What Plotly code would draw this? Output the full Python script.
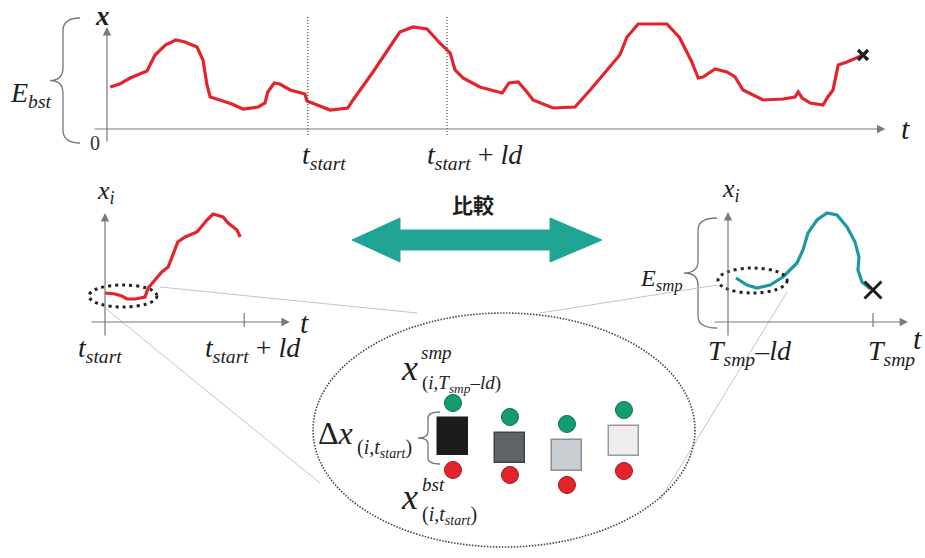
import plotly.graph_objects as go

W, H = 925, 558

# ---------------- data ----------------
# Long best-match series x(t) (top panel)
bst_t = [0.4, 1.6, 2.9, 5.0, 6.0, 7.3, 8.6, 9.75, 11.25, 12.0, 12.5, 12.9, 14.1, 15.6, 17.0, 18.9,
         19.75, 20.1, 20.9, 21.6, 22.9, 24.75, 25.0, 26.0, 27.9, 30.1, 30.75, 33.25, 34.1, 36.6,
         38.25, 40.0, 41.6, 42.9, 43.5, 44.5, 46.6, 49.4, 50.25, 51.4, 52.5, 53.25, 55.75, 58.5,
         60.4, 62.5, 64.1, 65.0, 66.4, 70.0, 71.6, 73.1, 73.9, 74.5, 76.0, 77.5, 78.5, 79.5, 82.0,
         84.5, 86.0, 86.4, 86.9, 87.9, 89.5, 90.1, 90.75, 91.4, 92.5, 94.5]
bst_x = [4.2, 4.5, 5.1, 5.8, 7.4, 8.4, 8.9, 8.7, 8.2, 6.9, 4.4, 3.2, 2.9, 2.5, 2.0, 2.2,
         2.6, 3.7, 4.6, 4.5, 3.9, 3.5, 2.8, 2.5, 1.9, 2.1, 2.9, 5.7, 6.7, 9.7,
         10.2, 10.0, 8.6, 7.6, 5.9, 5.1, 4.2, 3.6, 4.6, 4.7, 3.7, 2.9, 2.1, 2.2,
         3.9, 5.9, 7.4, 9.2, 10.5, 10.5, 9.1, 6.7, 5.1, 5.2, 6.0, 5.7, 5.2, 3.9, 2.9,
         3.0, 3.2, 3.7, 3.1, 2.6, 2.4, 3.2, 3.9, 6.4, 6.7, 7.4]
t_start = 25.1
ld = 17.4

# Window of the best-match series, t measured from t_start (bottom-left panel)
win_t = [0.0, 1.25, 2.1, 2.75, 3.75, 5.0, 5.4, 6.25, 7.1, 7.9, 9.1, 10.0, 11.5, 12.75, 13.5,
         14.75, 15.4, 16.5, 16.9]
win_x = [2.9, 2.8, 2.6, 2.3, 2.3, 2.5, 3.4, 4.2, 5.0, 5.5, 8.0, 8.5, 9.0, 10.2, 10.8,
         10.5, 9.9, 9.2, 8.5]

# Sample series, t measured from T_smp - ld (bottom-right panel)
smp_t = [0.96, 2.28, 3.48, 5.04, 6.6, 8.28, 9.0, 9.6, 10.68, 11.88, 13.08, 14.28, 15.24,
         15.72, 15.6, 16.08, 17.1]
smp_x = [4.4, 3.7, 3.4, 3.7, 4.5, 5.9, 7.2, 8.9, 10.2, 10.9, 10.7, 9.5, 8.0,
         6.5, 5.2, 4.0, 3.3]
smp_end_x = 3.2

# Element-wise comparison at t_start (inside the magnified view)
elem = [0, 1, 2, 3]
x_smp_vals = [7.7, 6.3, 5.6, 7.0]
x_bst_vals = [1.0, 0.5, -0.5, 0.9]
diff_low = [2.5, 1.7, 0.9, 2.4]
diff_high = [6.2, 4.7, 4.0, 5.4]
diff_fill = ["#1c1c1c", "#5f6366", "#c9ced3", "#eeeeee"]
diff_edge = ["#1c1c1c", "#3f4346", "#8a8e92", "#9a9a9a"]

RED = "#E3242B"
TEAL_LINE = "#1B98A3"
TEAL_ARROW = "#20A595"
GREEN = "#139B72"
AXIS = "#7a7a7a"
INK = "#1e1e1e"
SERIF = "Liberation Serif"


def dom_x(p0, p1):
    return [p0 / W, p1 / W]


def dom_y(p0, p1):
    return [1 - p1 / H, 1 - p0 / H]


fig = go.Figure()

# top panel: long series
fig.add_trace(go.Scatter(x=bst_t, y=bst_x, mode="lines", line=dict(color=RED, width=3.2),
                         xaxis="x", yaxis="y", hoverinfo="skip"))
fig.add_trace(go.Scatter(x=[bst_t[-1]], y=[bst_x[-1]], mode="markers",
                         marker=dict(symbol="x-thin", size=10, line=dict(color=INK, width=3.2)),
                         xaxis="x", yaxis="y", hoverinfo="skip"))
for tv in [t_start, t_start + ld]:
    fig.add_trace(go.Scatter(x=[tv, tv], y=[11.2, -0.7], mode="lines",
                             line=dict(color="#555", width=1.3, dash="1px,2px"),
                             xaxis="x", yaxis="y", hoverinfo="skip"))

# bottom-left panel: window of best-match series
fig.add_trace(go.Scatter(x=win_t, y=win_x, mode="lines", line=dict(color=RED, width=3.2),
                         xaxis="x2", yaxis="y2", hoverinfo="skip"))
fig.add_trace(go.Scatter(x=[ld, ld], y=[0.9, -0.5], mode="lines",
                         line=dict(color=AXIS, width=1.2), xaxis="x2", yaxis="y2", hoverinfo="skip"))

# bottom-right panel: sample series
fig.add_trace(go.Scatter(x=smp_t, y=smp_x, mode="lines", line=dict(color=TEAL_LINE, width=3.2),
                         xaxis="x3", yaxis="y3", hoverinfo="skip"))
fig.add_trace(go.Scatter(x=[ld], y=[smp_end_x], mode="markers",
                         marker=dict(symbol="x-thin", size=17, line=dict(color=INK, width=3)),
                         xaxis="x3", yaxis="y3", hoverinfo="skip"))
fig.add_trace(go.Scatter(x=[ld, ld], y=[0.9, -0.5], mode="lines",
                         line=dict(color=AXIS, width=1.2), xaxis="x3", yaxis="y3", hoverinfo="skip"))

# magnified view: difference squares plus the two element values
fig.add_trace(go.Bar(x=elem, y=[h - l for h, l in zip(diff_high, diff_low)], base=diff_low,
                     width=0.53,
                     marker=dict(color=diff_fill, line=dict(color=diff_edge, width=1.5)),
                     xaxis="x4", yaxis="y4", hoverinfo="skip"))
fig.add_trace(go.Scatter(x=elem, y=x_smp_vals, mode="markers",
                         marker=dict(size=17, color=GREEN, line=dict(color="#0b6e50", width=1)),
                         xaxis="x4", yaxis="y4", hoverinfo="skip"))
fig.add_trace(go.Scatter(x=elem, y=x_bst_vals, mode="markers",
                         marker=dict(size=17, color=RED, line=dict(color="#a51218", width=1)),
                         xaxis="x4", yaxis="y4", hoverinfo="skip"))

# ---------------- shapes ----------------
shapes = []


def brace(xe, xs, xt, y0, y1, r):
    ym = (y0 + y1) / 2
    path = (f"M{xe},{y0} Q{xs},{y0} {xs},{y0 + r} L{xs},{ym - r} Q{xs},{ym} {xt},{ym} "
            f"Q{xs},{ym} {xs},{ym + r} L{xs},{y1 - r} Q{xs},{y1} {xe},{y1}")
    return dict(type="path", path=path, xref="x5", yref="y5",
                line=dict(color="#777", width=1.3))


shapes.append(brace(80, 63, 50, 18, 143, 13))
shapes.append(brace(717, 698, 684, 218, 328, 12))
shapes.append(brace(440, 428, 418, 412, 464, 6))

# guide lines from the small ellipses to the magnified view
for (xa, ya, xb, yb) in [(160, 287, 417, 313), (105, 308, 320, 483),
                         (540, 313, 717, 285), (787, 292, 660, 500)]:
    shapes.append(dict(type="line", x0=xa, y0=ya, x1=xb, y1=yb, xref="x5", yref="y5",
                       line=dict(color="#c4c4c4", width=1)))

# dotted selection ellipses
shapes.append(dict(type="circle", xref="x2", yref="y2", x0=-2.0, x1=6.5, y0=1.5, y1=3.7,
                   line=dict(color="#222", width=3, dash="3px,4px")))
shapes.append(dict(type="circle", xref="x3", yref="y3", x0=-1.2, x1=7.1, y0=2.9, y1=5.4,
                   line=dict(color="#222", width=3, dash="3px,4px")))
# magnified view outline
shapes.append(dict(type="circle", xref="x5", yref="y5", x0=313, x1=695, y0=313, y1=547,
                   line=dict(color="#444", width=1.6, dash="1.5px,1.5px")))

# double-headed comparison arrow
arrow_pts = [(352, 240), (400, 218), (400, 230), (550, 230), (550, 218), (602, 240),
             (550, 262), (550, 250), (400, 250), (400, 262)]
shapes.append(dict(type="path", xref="x5", yref="y5",
                   path="M" + " L".join(f"{a},{b}" for a, b in arrow_pts) + " Z",
                   fillcolor=TEAL_ARROW, line=dict(color=TEAL_ARROW, width=1)))

# ---------------- annotations ----------------
ann = []


def axis_arrow(xr, yr, x0, y0, x1, y1):
    ann.append(dict(xref=xr, yref=yr, axref=xr, ayref=yr, x=x1, y=y1, ax=x0, ay=y0,
                    text="", showarrow=True, arrowhead=2, arrowsize=1.4, arrowwidth=1.2,
                    arrowcolor=AXIS))


axis_arrow("x", "y", -1.75, 0, 97.3, 0)
axis_arrow("x", "y", 0, -1.4, 0, 10.2)
axis_arrow("x2", "y2", -1.9, 0, 23.1, 0)
axis_arrow("x2", "y2", 0, -1.5, 0, 10.9)
axis_arrow("x3", "y3", -1.8, 0, 21.6, 0)
axis_arrow("x3", "y3", 0, -1.5, 0, 11.0)


def label(x, y, text, size=26, xanchor="left", family=SERIF, color=INK):
    ann.append(dict(xref="x5", yref="y5", x=x, y=y, text=text, showarrow=False,
                    xanchor=xanchor, yanchor="middle",
                    font=dict(family=family, size=size, color=color)))


# top panel
label(102, 16, "<i><b>x</b></i>", 27, "center")
label(905, 128, "<i>t</i>", 30, "center")
label(95, 143, "0", 20, "center", color="#333")
label(8, 94, "<i>E<sub>bst</sub></i>", 28)
label(300, 156, "<i>t<sub>start</sub></i>", 28)
label(425, 156, "<i>t<sub>start</sub></i> + <i>ld</i>", 28)

# bottom-left panel
label(95, 192, "<i>x<sub>i</sub></i>", 26)
label(304, 322, "<i>t</i>", 30, "center")
label(76, 349, "<i>t<sub>start</sub></i>", 28)
label(203, 349, "<i>t<sub>start</sub></i> + <i>ld</i>", 28)

# bottom-right panel
label(720, 190, "<i>x<sub>i</sub></i>", 26)
label(917, 338, "<i>t</i>", 30, "center")
label(706, 352, "<i>T<sub>smp</sub></i>–<i>ld</i>", 28)
label(866, 352, "<i>T<sub>smp</sub></i>", 28)
label(638, 280, "<i>E<sub>smp</sub></i>", 24)

# comparison arrow caption
label(473, 204, "<b>比較</b>", 21, "center", family="Noto Sans CJK JP")

# magnified view labels
label(399, 368, "<i>x</i>", 36)
label(419, 352, "<i>smp</i>", 19)
label(420, 384, "(<i>i</i>,<i>T<sub>smp</sub></i>–<i>ld</i>)", 19)
label(316, 433, "Δ<i>x</i>", 32)
label(355, 448, "(<i>i</i>,<i>t<sub>start</sub></i>)", 20)
label(399, 497, "<i>x</i>", 36)
label(420, 484, "<i>bst</i>", 19)
label(420, 515, "(<i>i</i>,<i>t<sub>start</sub></i>)", 20)

hidden = dict(visible=False, showgrid=False, zeroline=False, fixedrange=True)

fig.update_layout(
    width=W, height=H,
    margin=dict(l=0, r=0, t=0, b=0),
    paper_bgcolor="white", plot_bgcolor="rgba(0,0,0,0)",
    showlegend=False,
    bargap=0,
    # top panel: 8 px per time unit, 10 px per value unit
    xaxis=dict(domain=dom_x(80, 920), range=[-3.375, 101.625], anchor="y", **hidden),
    yaxis=dict(domain=dom_y(10, 150), range=[-2.1, 11.9], anchor="x", **hidden),
    # bottom-left panel
    xaxis2=dict(domain=dom_x(80, 320), range=[-3.125, 26.875], anchor="y2", **hidden),
    yaxis2=dict(domain=dom_y(190, 350), range=[-2.8, 13.2], anchor="x2", **hidden),
    # bottom-right panel
    xaxis3=dict(domain=dom_x(700, 920), range=[-3.36, 23.04], anchor="y3", **hidden),
    yaxis3=dict(domain=dom_y(190, 350), range=[-2.8, 13.2], anchor="x3", **hidden),
    # magnified comparison view
    xaxis4=dict(domain=dom_x(313, 695), range=[-2.456, 4.246], anchor="y4", **hidden),
    yaxis4=dict(domain=dom_y(313, 547), range=[-6.7, 16.7], anchor="x4", **hidden),
    # full-page frame for decorations and labels (pixel units, y downward)
    xaxis5=dict(domain=[0, 1], range=[0, W], anchor="y5", **hidden),
    yaxis5=dict(domain=[0, 1], range=[H, 0], anchor="x5", **hidden),
    shapes=shapes,
    annotations=ann,
)

fig.write_html("out.html")
